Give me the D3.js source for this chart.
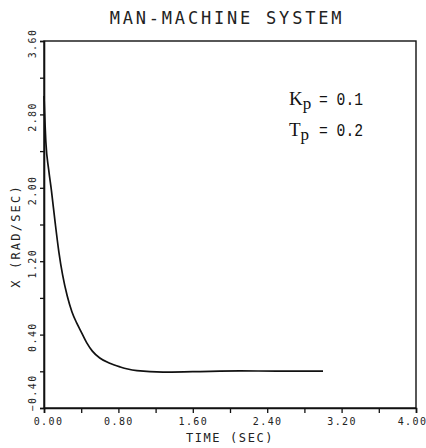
<!DOCTYPE html>
<html>
<head>
<meta charset="utf-8">
<script src="https://cdn.jsdelivr.net/npm/d3@7"></script>
<style>
  body { margin: 0; background: #fff; }
  svg { display: block; }
</style>
</head>
<body>
<div id="chart"></div>
<script>
// Chart size and plotting frame
const width = 426;
const height = 448;
const margin = {left: 44, right: 10, top: 41, bottom: 40};

// Curve: time (sec) and X (rad/sec)
const timeVals = [0, 0.02, 0.05, 0.08, 0.12, 0.16, 0.20, 0.25, 0.30, 0.35, 0.39,
                  0.46, 0.52, 0.60, 0.70, 0.82, 0.90, 1.00, 1.28, 1.60, 2.11, 2.50, 3.00];
const xVals    = [3.00, 2.50, 2.20, 1.97, 1.62, 1.30, 1.05, 0.82, 0.65, 0.53, 0.45,
                  0.31, 0.22, 0.145, 0.09, 0.047, 0.025, 0.008, -0.008, -0.004, 0.004, 0.002, 0.002];

// Tick values
const xTicks = [0, 0.4, 0.8, 1.2, 1.6, 2.0, 2.4, 2.8, 3.2, 3.6, 4.0];
const yTicks = [-0.4, 0, 0.4, 0.8, 1.2, 1.6, 2.0, 2.4, 2.8, 3.2, 3.6];
const xLabelled = [0, 0.8, 1.6, 2.4, 3.2, 4.0];
const yLabelled = [-0.4, 0.4, 1.2, 2.0, 2.8, 3.6];

const svg = d3.select("#chart")
  .append("svg")
  .attr("width", width)
  .attr("height", height);

const xScale = d3.scaleLinear()
  .domain([0, 4])
  .range([margin.left, width - margin.right]);

const yScale = d3.scaleLinear()
  .domain([-0.4, 3.6])
  .range([height - margin.bottom, margin.top]);

const fmt = d3.format(".2f");
const isLab = (arr, v) => arr.some(a => Math.abs(a - v) < 1e-6);

// Frame
svg.append("rect")
  .attr("x", xScale(0))
  .attr("y", yScale(3.6))
  .attr("width", xScale(4) - xScale(0))
  .attr("height", yScale(-0.4) - yScale(3.6))
  .attr("fill", "none")
  .attr("stroke", "#111")
  .attr("stroke-width", 1.4);

// x axis
const gx = svg.append("g")
  .attr("transform", `translate(0,${yScale(-0.4)})`)
  .call(d3.axisBottom(xScale)
    .tickValues(xTicks)
    .tickSize(5)
    .tickFormat(d => isLab(xLabelled, d) ? fmt(d) : ""));
gx.select(".domain").attr("stroke", "#111").attr("stroke-width", 1.6);
gx.selectAll(".tick line").attr("stroke", "#111").attr("stroke-width", 1.3);
gx.selectAll(".tick text")
  .attr("font-family", "DejaVu Sans Mono")
  .attr("font-size", 10)
  .attr("letter-spacing", 1.4)
  .attr("fill", "#222")
  .attr("y", 10)
  .attr("dx", d => d === 0 ? 4 : (d === 4 ? -4 : 0));

// y axis
const gy = svg.append("g")
  .attr("transform", `translate(${xScale(0)},0)`)
  .call(d3.axisLeft(yScale)
    .tickValues(yTicks)
    .tickSize(4)
    .tickFormat(d => isLab(yLabelled, d) ? fmt(d) : ""));
gy.select(".domain").attr("stroke", "#111").attr("stroke-width", 1.6);
gy.selectAll(".tick line").attr("stroke", "#111").attr("stroke-width", 1.3);
gy.selectAll(".tick text")
  .attr("font-family", "DejaVu Sans Mono")
  .attr("font-size", 10)
  .attr("letter-spacing", 1.4)
  .attr("fill", "#222")
  .attr("transform", "rotate(-90)")
  .attr("dy", null)
  .attr("dominant-baseline", "central")
  .attr("y", -12)
  .attr("x", d => d === -0.4 ? -3 : -2)
  .attr("text-anchor", d => d === -0.4 ? "start" : "middle");

// Response curve
const line = d3.line()
  .x((d, i) => xScale(timeVals[i]))
  .y((d, i) => yScale(xVals[i]))
  .curve(d3.curveMonotoneX);

svg.append("path")
  .datum(xVals)
  .attr("d", line)
  .attr("fill", "none")
  .attr("stroke", "#111")
  .attr("stroke-width", 1.7);

// Title
svg.append("text")
  .attr("x", 227)
  .attr("y", 24)
  .attr("text-anchor", "middle")
  .attr("font-family", "DejaVu Sans Mono")
  .attr("font-size", 17)
  .attr("letter-spacing", 2.8)
  .attr("fill", "#222")
  .text("MAN-MACHINE SYSTEM");

// Axis titles
svg.append("text")
  .attr("x", (xScale(0) + xScale(4)) / 2)
  .attr("y", 442)
  .attr("text-anchor", "middle")
  .attr("font-family", "DejaVu Sans Mono")
  .attr("font-size", 12)
  .attr("letter-spacing", 1.6)
  .attr("fill", "#222")
  .text("TIME (SEC)");

svg.append("text")
  .attr("transform", "translate(16,236) rotate(-90)")
  .attr("text-anchor", "middle")
  .attr("dominant-baseline", "central")
  .attr("font-family", "DejaVu Sans Mono")
  .attr("font-size", 12)
  .attr("letter-spacing", 2.2)
  .attr("fill", "#222")
  .text("X (RAD/SEC)");

// Parameter annotations
const params = [
  {sym: "K", val: "= 0.1", base: 105},
  {sym: "T", val: "= 0.2", base: 136}
];
params.forEach(p => {
  const t = svg.append("text")
    .attr("x", 289)
    .attr("y", p.base)
    .attr("font-family", "Liberation Serif")
    .attr("font-size", 19)
    .attr("fill", "#111");
  t.append("tspan").text(p.sym);
  t.append("tspan").attr("dy", 4).attr("font-size", 17).text("p");
  svg.append("text")
    .attr("x", 319)
    .attr("y", p.base)
    .attr("font-family", "Liberation Mono")
    .attr("font-size", 19)
    .attr("textLength", 44)
    .attr("lengthAdjust", "spacingAndGlyphs")
    .attr("fill", "#111")
    .text(p.val);
});
</script>
</body>
</html>
